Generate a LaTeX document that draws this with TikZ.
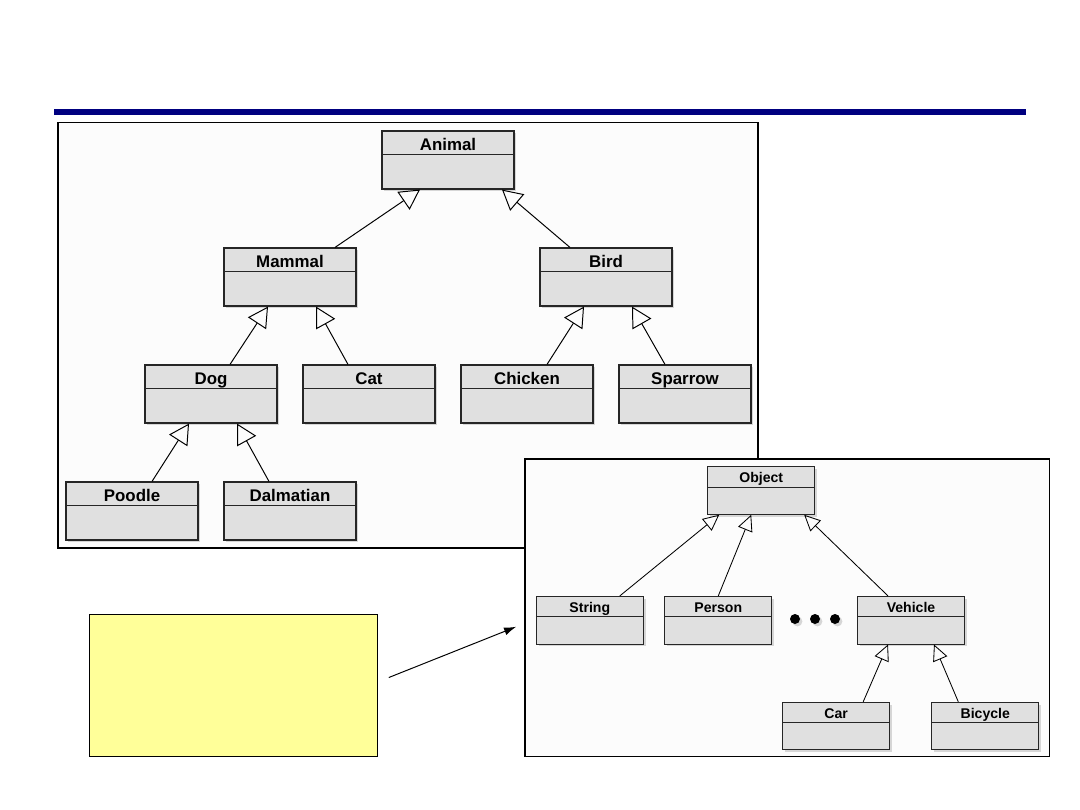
\documentclass[tikz,border=0pt]{standalone}
\usepackage{fontspec}
\setmainfont{Liberation Sans}
\usepackage{tikz}
\usetikzlibrary{arrows.meta,calc,shadows}
\definecolor{AzulBarra}{RGB}{0,0,128}
\definecolor{GrisCaja}{RGB}{224,224,224}
\definecolor{FondoMarco}{RGB}{252,252,252}
\definecolor{AmarilloNota}{RGB}{255,255,153}

\begin{document}
\begin{tikzpicture}[x=0.025cm,y=-0.025cm,>=Latex,
  marco/.style={draw,line width=1.2pt,fill=FondoMarco,inner sep=0pt},
  sombra/.style={drop shadow={shadow xshift=0.06cm,shadow yshift=-0.06cm,opacity=0.3}},
  claseG/.style={draw=black!85,line width=0.8pt,fill=GrisCaja,sombra,inner ysep=0pt,
    minimum width=3.3cm,minimum height=1.45cm,text height=0.475cm,text depth=0.975cm,
    font=\bfseries\fontsize{12}{14}\selectfont},
  claseP/.style={draw=black!85,line width=0.7pt,fill=GrisCaja,sombra,inner ysep=0pt,
    minimum width=2.675cm,minimum height=1.19cm,text height=0.4cm,text depth=0.79cm,
    font=\bfseries\fontsize{10}{12}\selectfont},
  divisor/.style={draw=black!85,line width=0.8pt},
  heredaG/.style={line width=0.7pt,-{Triangle[open,length=0.5cm,width=0.54cm]}},
  heredaP/.style={line width=0.6pt,-{Triangle[open,length=0.4cm,width=0.38cm]}},
  punto/.style={circle,fill=black,inner sep=0pt,minimum size=0.25cm,sombra}]
  \useasboundingbox (0,0) rectangle (1080,810);

  \fill[AzulBarra] (54,109) rectangle (1026,115);

  \node[marco,minimum width=17.51cm,minimum height=10.63cm] (marcoA) at (408,335.3) {};

  \node[claseG] (animal) at (448,160) {Animal};
  \node[claseG] (mammal) at (290,277) {Mammal};
  \node[claseG] (bird) at (606,277) {Bird};
  \node[claseG] (dog) at (211,394) {Dog};
  \node[claseG] (cat) at (369,394) {Cat};
  \node[claseG] (chicken) at (527,394) {Chicken};
  \node[claseG] (sparrow) at (685,394) {Sparrow};
  \node[claseG] (poodle) at (132,511) {Poodle};
  \node[claseG] (dalmatian) at (290,511) {Dalmatian};
  \foreach \n in {animal,mammal,bird,dog,cat,chicken,sparrow,poodle,dalmatian}
    \draw[divisor] ([yshift=-0.61cm]\n.north west) -- ([yshift=-0.61cm]\n.north east);

  \draw[heredaG] ($(mammal.north)+(45,0)$) -- ($(animal.south)+(-28,0)$);
  \draw[heredaG] ($(bird.north)+(-36,0)$) -- ($(animal.south)+(54,0)$);
  \draw[heredaG] ($(dog.north)+(19,0)$) -- ($(mammal.south)+(-22,0)$);
  \draw[heredaG] ($(cat.north)+(-21,0)$) -- ($(mammal.south)+(26,0)$);
  \draw[heredaG] ($(chicken.north)+(20,0)$) -- ($(bird.south)+(-22,0)$);
  \draw[heredaG] ($(sparrow.north)+(-20,0)$) -- ($(bird.south)+(26,0)$);
  \draw[heredaG] ($(poodle.north)+(20,0)$) -- ($(dog.south)+(-22,0)$);
  \draw[heredaG] ($(dalmatian.north)+(-21,0)$) -- ($(dog.south)+(26,0)$);

  \node[marco,minimum width=13.11cm,minimum height=7.43cm] (marcoB) at (787.2,607.8) {};

  \node[claseP] (object) at (761.2,490.5) {Object};
  \node[claseP] (string) at (589.8,620.2) {String};
  \node[claseP] (person) at (718.3,620.2) {Person};
  \node[claseP] (vehicle) at (911,620.2) {Vehicle};
  \node[claseP] (car) at (836.2,726.1) {Car};
  \node[claseP] (bicycle) at (985.3,726.1) {Bicycle};
  \foreach \n in {object,string,person,vehicle,car,bicycle}
    \draw[divisor,line width=0.7pt] ([yshift=-0.52cm]\n.north west) -- ([yshift=-0.52cm]\n.north east);
  \foreach \x [count=\i] in {795,815,835}
    \node[punto] (p\i) at (\x,619) {};

  \draw[heredaP] ($(string.north)+(30,0)$) -- ($(object.south)+(-42,0)$);
  \draw[heredaP] ($(person.north)+(0,0)$) -- ($(object.south)+(-10,0)$);
  \draw[heredaP] ($(vehicle.north)+(-23,0)$) -- ($(object.south)+(43,0)$);
  \draw[heredaP] ($(car.north)+(27,0)$) -- ($(vehicle.south)+(-23,0)$);
  \draw[heredaP] ($(bicycle.north)+(-27,0)$) -- ($(vehicle.south)+(23,0)$);

  \node[draw,line width=0.7pt,fill=AmarilloNota,minimum width=7.2cm,minimum height=3.525cm] (nota) at (233.3,685.5) {};
  \draw[-{Latex[length=0.3cm,width=0.2cm]},line width=0.7pt]
    ($(nota.east)+(11,-8)$) -- ($(marcoB.west)+(-8,19)$);
\end{tikzpicture}
\end{document}
